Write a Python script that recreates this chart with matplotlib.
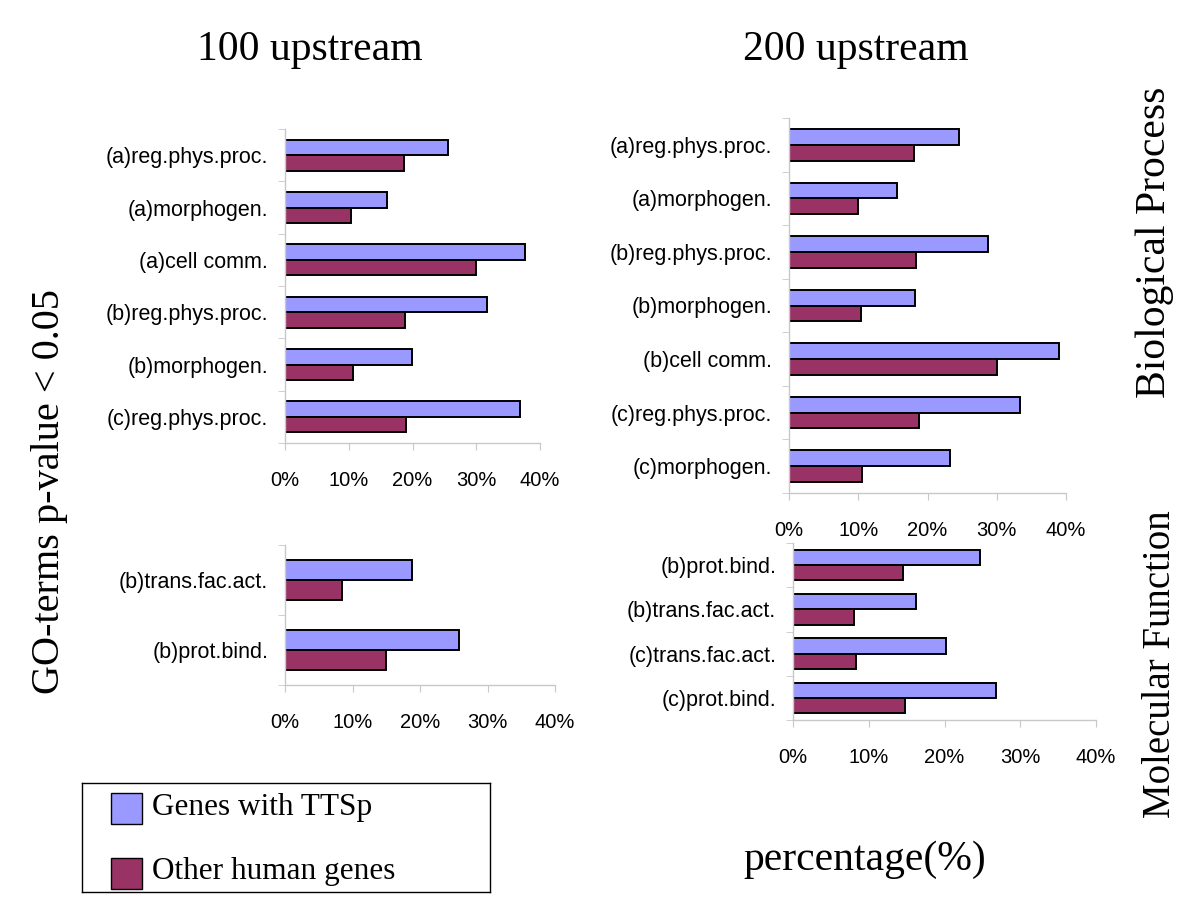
import numpy as np
from matplotlib import pyplot as plt

# values (percent)
bp100_labels = ["(a)reg.phys.proc.", "(a)morphogen.", "(a)cell comm.",
                "(b)reg.phys.proc.", "(b)morphogen.", "(c)reg.phys.proc."]
bp100_ttsp = [25.6, 16.0, 37.7, 31.7, 19.9, 36.9]
bp100_other = [18.6, 10.4, 30.0, 18.8, 10.7, 19.0]

bp200_labels = ["(a)reg.phys.proc.", "(a)morphogen.", "(b)reg.phys.proc.",
                "(b)morphogen.", "(b)cell comm.", "(c)reg.phys.proc.", "(c)morphogen."]
bp200_ttsp = [24.6, 15.6, 28.8, 18.2, 39.0, 33.3, 23.2]
bp200_other = [18.0, 10.0, 18.4, 10.4, 30.1, 18.8, 10.6]

mf100_labels = ["(b)trans.fac.act.", "(b)prot.bind."]
mf100_ttsp = [18.8, 25.8]
mf100_other = [8.4, 15.0]

mf200_labels = ["(b)prot.bind.", "(b)trans.fac.act.", "(c)trans.fac.act.", "(c)prot.bind."]
mf200_ttsp = [24.7, 16.2, 20.2, 26.8]
mf200_other = [14.5, 8.1, 8.3, 14.8]

xticks = [0, 10, 20, 30, 40]
xtick_labels = ["0%", "10%", "20%", "30%", "40%"]

BLUE = "#9999FF"
RED = "#993366"
W, H = 1200, 909

fig = plt.figure(figsize=(12, 9.09), dpi=100)


def panel(box, labels, ttsp, other, frac):
    # box in pixels: x of 0%, x of 40%, top, bottom
    x0, x1, yt, yb = box
    ax = fig.add_axes([x0 / W, 1 - yb / H, (x1 - x0) / W, (yb - yt) / H])
    n = len(labels)
    y = np.arange(n)
    h = frac / 2
    ax.barh(y - h / 2, ttsp, height=h, color=BLUE, edgecolor="black", linewidth=1.4)
    ax.barh(y + h / 2, other, height=h, color=RED, edgecolor="black", linewidth=1.4)
    ax.set_ylim(n - 0.5, -0.5)
    ax.set_xlim(0, 40)
    for s in ["top", "right"]:
        ax.spines[s].set_visible(False)
    for s in ["left", "bottom"]:
        ax.spines[s].set_color("#c8c8c8")
        ax.spines[s].set_linewidth(1)
    ax.set_xticks(xticks)
    ax.set_xticklabels(xtick_labels, fontname="Liberation Sans", fontsize=14.5)
    ax.tick_params(axis="x", direction="out", length=5, color="#c8c8c8", pad=15)
    ax.set_yticks(y)
    ax.set_yticklabels(labels, fontname="Liberation Sans", fontsize=15.5)
    ax.tick_params(axis="y", length=0, pad=12)
    ax.set_yticks(np.arange(n + 1) - 0.5, minor=True)
    ax.tick_params(axis="y", which="minor", length=5, color="#c8c8c8", direction="out")
    ax.set_facecolor("none")
    return ax


panel((285, 540, 129, 443), bp100_labels, bp100_ttsp, bp100_other, 0.59)
panel((789, 1066, 118, 493), bp200_labels, bp200_ttsp, bp200_other, 0.59)
panel((285, 555, 545, 685), mf100_labels, mf100_ttsp, mf100_other, 0.57)
panel((793, 1096, 543, 720), mf200_labels, mf200_ttsp, mf200_other, 0.69)

serif = "Liberation Serif"
fig.text(310 / W, 1 - 50 / H, "100 upstream", fontname=serif, fontsize=30, ha="center", va="center")
fig.text(856 / W, 1 - 50 / H, "200 upstream", fontname=serif, fontsize=30, ha="center", va="center")
fig.text(50 / W, 1 - 492 / H, "GO-terms p-value < 0.05", fontname=serif, fontsize=29,
         rotation=90, ha="center", va="center")
fig.text(1155 / W, 1 - 242 / H, "Biological Process", fontname=serif, fontsize=30,
         rotation=90, ha="center", va="center")
fig.text(1160 / W, 1 - 664 / H, "Molecular Function", fontname=serif, fontsize=28,
         rotation=90, ha="center", va="center")
fig.text(865 / W, 1 - 860 / H, "percentage(%)", fontname=serif, fontsize=30, ha="center", va="center")

# legend box
lax = fig.add_axes([82 / W, 1 - 892 / H, 408 / W, 109 / H])
lax.set_xlim(0, 408)
lax.set_ylim(109, 0)
lax.set_xticks([])
lax.set_yticks([])
for s in lax.spines.values():
    s.set_linewidth(1)
lax.add_patch(plt.Rectangle((29, 10), 31, 31, facecolor=BLUE, edgecolor="black", linewidth=1))
lax.add_patch(plt.Rectangle((29, 75), 31, 31, facecolor=RED, edgecolor="black", linewidth=1))
lax.text(70, 25, "Genes with TTSp", fontname=serif, fontsize=22.5, va="center")
lax.text(70, 88, "Other human genes", fontname=serif, fontsize=22.5, va="center")

plt.savefig("out.png", dpi=100)
